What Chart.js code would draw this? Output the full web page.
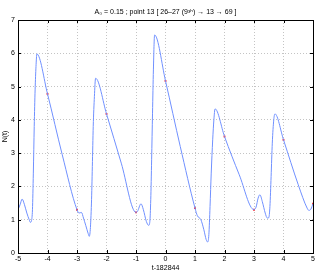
<!DOCTYPE html>
<html>
<head>
<meta charset="utf-8">
<script src="https://cdn.jsdelivr.net/npm/chart.js@4/dist/chart.umd.min.js"></script>
<style>
  html, body { margin: 0; padding: 0; background: #fff; }
  #wrap { width: 320px; height: 273px; }
</style>
</head>
<body>
<div id="wrap"><canvas id="plot"></canvas></div>
<script>
// time offsets (t-182844) and N(t)
const tValues = [-5.00, -4.93, -4.86, -4.78, -4.70, -4.62, -4.58, -4.54, -4.51, -4.48, -4.45, -4.42, -4.39, -4.36,
  -4.00, -3.50, -3.00, -2.93, -2.85, -2.78, -2.70, -2.62, -2.585, -2.55, -2.51, -2.48, -2.45, -2.41, -2.37,
  -2.00, -1.50, -1.00, -0.95, -0.83, -0.75, -0.65, -0.57, -0.53, -0.50, -0.47, -0.44, -0.41, -0.37,
  0.00, 0.50, 1.00, 1.08, 1.20, 1.30, 1.38, 1.43, 1.47, 1.51, 1.55, 1.60, 1.64, 1.68,
  2.00, 2.50, 3.00, 3.07, 3.14, 3.20, 3.28, 3.38, 3.45, 3.50, 3.54, 3.58, 3.62, 3.67, 3.71,
  4.00, 4.50, 4.80, 4.86, 4.93, 5.00];
const nValues = [1.30, 1.45, 1.62, 1.45, 1.20, 1.00, 0.92, 0.98, 1.30, 2.40, 3.80, 4.90, 5.60, 5.98,
  4.78, 2.95, 1.30, 1.20, 1.22, 1.05, 0.82, 0.58, 0.50, 0.70, 1.50, 2.60, 3.80, 4.70, 5.25,
  4.18, 2.70, 1.22, 1.25, 1.48, 1.30, 0.95, 0.83, 0.95, 1.60, 2.80, 4.20, 5.50, 6.55,
  5.17, 3.20, 1.35, 1.12, 1.00, 0.70, 0.40, 0.33, 0.55, 1.40, 2.40, 3.40, 4.00, 4.33,
  3.50, 2.35, 1.30, 1.38, 1.65, 1.75, 1.55, 1.20, 1.05, 1.06, 1.40, 2.30, 3.30, 4.00, 4.18,
  3.40, 2.05, 1.35, 1.28, 1.32, 1.48];

// red markers at whole seconds
const markT = [-4, -3, -2, -1, 0, 1, 2, 3, 4, 5];
const markN = [4.78, 1.30, 4.18, 1.22, 5.17, 1.35, 3.50, 1.30, 3.40, 1.48];

const xTicks = [-5, -4, -3, -2, -1, 0, 1, 2, 3, 4, 5];
const yTicks = [0, 1, 2, 3, 4, 5, 6, 7];

const font = { family: "'Liberation Sans', Arial, sans-serif", size: 7 };

// matlab style frame with inward ticks
const framePlugin = {
  id: 'frame',
  afterDraw(chart) {
    const { ctx, chartArea: { left, right, top, bottom }, scales: { x, y } } = chart;
    ctx.save();
    ctx.strokeStyle = '#000';
    ctx.lineWidth = 1;
    ctx.beginPath();
    xTicks.forEach(v => {
      const px = Math.round(x.getPixelForValue(v)) + 0.5;
      ctx.moveTo(px, bottom); ctx.lineTo(px, bottom - 3);
      ctx.moveTo(px, top); ctx.lineTo(px, top + 3);
    });
    yTicks.forEach(v => {
      const py = Math.round(y.getPixelForValue(v)) + 0.5;
      ctx.moveTo(left, py); ctx.lineTo(left + 3, py);
      ctx.moveTo(right, py); ctx.lineTo(right - 3, py);
    });
    ctx.stroke();
    ctx.strokeRect(Math.round(left) + 0.5, Math.round(top) + 0.5,
      Math.round(right - left), Math.round(bottom - top));
    ctx.restore();
  }
};

new Chart(document.getElementById('plot'), {
  type: 'line',
  data: {
    datasets: [{
      data: tValues.map((t, i) => ({ x: t, y: nValues[i] })),
      borderColor: '#7090ff',
      borderWidth: 1,
      pointRadius: 0,
      cubicInterpolationMode: 'monotone'
    }, {
      data: markT.map((t, i) => ({ x: t, y: markN[i] })),
      showLine: false,
      pointStyle: 'rect',
      pointRadius: 1.3,
      pointBorderWidth: 0,
      pointBackgroundColor: '#ff2020'
    }]
  },
  options: {
    responsive: true,
    maintainAspectRatio: false,
    animation: false,
    layout: { padding: { left: 0, right: 7, top: 0, bottom: 0 } },
    plugins: {
      legend: { display: false },
      tooltip: { enabled: false },
      title: {
        display: true,
        fullSize: false,
        text: 'A\u2080 = 0.15 ; point 13 [ 26\u201327 (9\u00b3\u02b0) \u2192 13 \u2192 69 ]',
        color: '#000',
        font: { ...font, weight: 'normal' },
        padding: { top: 7.5, bottom: 4.1 }
      }
    },
    scales: {
      x: {
        type: 'linear',
        min: -5,
        max: 5,
        afterFit: s => { s.height = 20; },
        afterBuildTicks: s => { s.ticks = xTicks.map(v => ({ value: v })); },
        ticks: { color: '#000', font, padding: 2, maxRotation: 0 },
        grid: { color: '#c4c4c4', drawTicks: false },
        border: { display: false, dash: [1, 2] },
        title: { display: true, text: 't-182844', color: '#000', font, padding: { top: 0, bottom: 0.5 } }
      },
      y: {
        min: 0,
        max: 7,
        afterFit: s => { s.width = 18; },
        afterBuildTicks: s => { s.ticks = yTicks.map(v => ({ value: v })); },
        ticks: { color: '#000', font, padding: 3 },
        grid: { color: '#c4c4c4', drawTicks: false },
        border: { display: false, dash: [1, 2] },
        title: { display: true, text: 'N(t)', color: '#000', font, padding: { top: 1, bottom: 0 } }
      }
    }
  },
  plugins: [framePlugin]
});
</script>
</body>
</html>
